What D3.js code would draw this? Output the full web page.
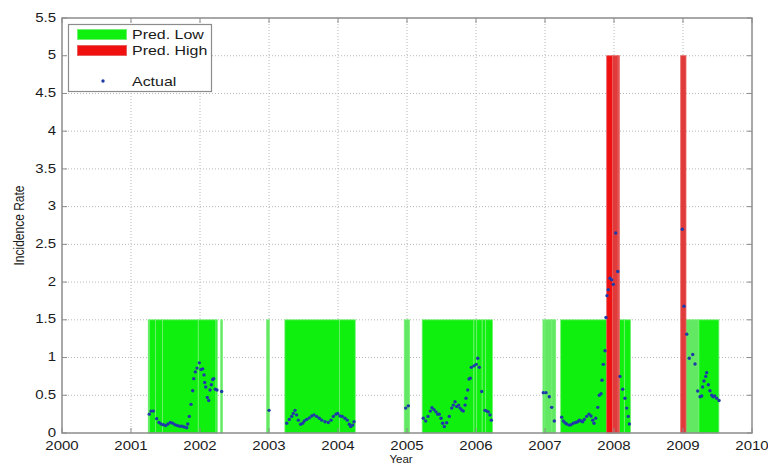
<!DOCTYPE html>
<html><head><meta charset="utf-8">
<script src="https://cdn.jsdelivr.net/npm/d3@7"></script>
<style>body{margin:0;background:#fff}svg{display:block}text{font-family:"Liberation Sans",Arial,sans-serif;fill:#1a1a1a}</style>
</head><body><svg id="c" width="768" height="465"></svg>
<script>
// ---- data ----
const xTicks = [2000,2001,2002,2003,2004,2005,2006,2007,2008,2009,2010];
const yTicks = [0,0.5,1,1.5,2,2.5,3,3.5,4,4.5,5,5.5];
const yTickLabels = ["0","0.5","1","1.5","2","2.5","3","3.5","4","4.5","5","5.5"];
const predLowValue = 1.5;
const predHighValue = 5;
// predicted-low bars (start year, end year, light shade flag)
const lowStart = [2001.25,2001.265,2001.355,2001.457,2001.975,2002.232,2002.30,2002.966,2003.23,2004.02,2004.96,2005.22,2005.97,2006.01,2006.09,2006.14,2006.97,2007.0,2007.1,2007.227,2008.077,2008.15,2009.043,2009.23];
const lowEnd   = [2001.265,2001.355,2001.457,2001.975,2002.232,2002.25,2002.325,2003.004,2004.02,2004.25,2005.035,2005.97,2006.01,2006.09,2006.14,2006.24,2007.0,2007.1,2007.155,2008.077,2008.15,2008.24,2009.23,2009.52];
const lowLight = [0,0,0,0,0,0,1,1,0,0,1,0,0,0,0,0,1,1,1,0,0,0,1,0];
// predicted-high bars
const highStart = [2007.894,2007.98,2008.06,2008.967];
const highEnd   = [2007.98,2008.06,2008.077,2009.043];
const highDull  = [0,1,1,1];
// actual incidence rate
const actualYear = [
2001.265,2001.290,2001.323,2001.372,2001.406,2001.435,2001.468,2001.503,2001.536,2001.570,2001.604,2001.638,2001.671,2001.706,2001.739,2001.772,2001.807,2001.822,2001.845,2001.870,2001.894,2001.909,2001.932,2001.957,2001.990,2002.014,2002.039,2002.058,2002.068,2002.083,2002.106,2002.126,2002.145,2002.164,2002.184,2002.199,2002.222,2002.246,2002.314,
2003.000,
2003.257,2003.294,2003.329,2003.352,2003.377,2003.401,2003.425,2003.459,2003.488,2003.512,2003.546,2003.584,2003.619,2003.652,2003.691,2003.729,2003.764,2003.812,2003.859,2003.899,2003.932,2003.971,2003.996,2004.029,2004.062,2004.101,2004.135,2004.164,2004.184,2004.213,2004.232,
2004.981,2005.019,
2005.236,2005.271,2005.304,2005.338,2005.362,2005.391,2005.420,2005.445,2005.468,2005.493,2005.517,2005.541,2005.575,2005.613,2005.648,2005.671,2005.696,2005.720,2005.749,2005.768,2005.793,2005.816,2005.841,2005.855,2005.880,2005.899,2005.917,2005.932,2005.971,2006.004,2006.025,2006.048,2006.083,2006.130,2006.155,2006.178,2006.203,2006.222,
2006.975,2007.014,2007.062,2007.097,2007.135,
2007.242,2007.265,2007.290,2007.314,2007.348,2007.377,2007.410,2007.445,2007.474,2007.497,2007.522,2007.546,2007.570,2007.604,2007.638,2007.667,2007.691,2007.710,2007.735,2007.764,2007.787,2007.812,2007.826,2007.845,2007.870,2007.884,2007.899,2007.917,2007.942,2007.967,2007.990,2008.025,2008.054,2008.087,2008.126,2008.159,2008.184,2008.207,2008.222,
2008.990,2009.014,2009.054,2009.091,2009.141,2009.174,2009.213,2009.246,2009.271,2009.284,2009.304,2009.329,2009.343,2009.367,2009.391,2009.416,2009.435,2009.459,2009.488,2009.522];
const actualValue = [
0.25,0.29,0.29,0.19,0.14,0.12,0.11,0.10,0.12,0.14,0.13,0.11,0.10,0.09,0.09,0.08,0.07,0.12,0.22,0.38,0.56,0.72,0.81,0.86,0.93,0.84,0.85,0.77,0.67,0.61,0.47,0.43,0.57,0.64,0.71,0.72,0.58,0.57,0.55,
0.30,
0.13,0.18,0.22,0.26,0.30,0.24,0.17,0.115,0.13,0.16,0.18,0.20,0.225,0.24,0.22,0.195,0.17,0.15,0.14,0.17,0.22,0.25,0.26,0.225,0.22,0.195,0.17,0.115,0.085,0.105,0.15,
0.33,0.36,
0.195,0.16,0.22,0.29,0.335,0.31,0.28,0.25,0.25,0.195,0.13,0.085,0.135,0.22,0.33,0.37,0.415,0.35,0.37,0.33,0.305,0.29,0.37,0.46,0.57,0.715,0.725,0.87,0.89,0.91,0.99,0.87,0.55,0.30,0.29,0.28,0.24,0.17,
0.535,0.535,0.48,0.34,0.16,
0.21,0.16,0.135,0.12,0.105,0.11,0.13,0.14,0.15,0.17,0.16,0.15,0.18,0.22,0.25,0.225,0.17,0.13,0.195,0.34,0.50,0.52,0.70,0.91,1.09,1.53,1.82,1.90,2.05,2.03,1.97,2.65,2.14,0.75,0.58,0.46,0.33,0.22,0.12,
2.70,1.68,1.31,0.99,1.04,0.915,0.557,0.48,0.49,0.61,0.69,0.75,0.80,0.64,0.56,0.50,0.48,0.49,0.46,0.43];
const legendLabels = ["Pred. Low","Pred. High","Actual"];
const xLabel = "Year", yLabel = "Incidence Rate";

// ---- drawing ----
const svg = d3.select("#c");
const L=62,R=752,T=18,B=433;
const x = d3.scaleLinear().domain([2000,2010]).range([L,R]);
const y = d3.scaleLinear().domain([0,5.5]).range([B,T]);
const GREEN="#0ff00f", GREEN_L="#62e862", GREEN_EDGE="#74f074";
const RED="#f01010", RED_D="#e03a3a", RED_EDGE="#e86060";
const AX="#8c8c8c";

// grid
const g = svg.append("g");
g.selectAll("line.gx").data(xTicks.slice(1,-1)).join("line")
  .attr("x1",d=>x(d)).attr("x2",d=>x(d)).attr("y1",T).attr("y2",B)
  .attr("stroke","#b8b8b8").attr("stroke-dasharray","1,2").attr("stroke-width",1);
g.selectAll("line.gy").data(yTicks.slice(1,-1)).join("line")
  .attr("y1",d=>y(d)).attr("y2",d=>y(d)).attr("x1",L).attr("x2",R)
  .attr("stroke","#b8b8b8").attr("stroke-dasharray","1,2").attr("stroke-width",1);

// low bars
svg.append("g").selectAll("rect").data(lowStart.map((s,i)=>({s,e:lowEnd[i],l:lowLight[i]}))).join("rect")
  .attr("x",d=>x(d.s)).attr("width",d=>Math.max(0.8,x(d.e)-x(d.s)))
  .attr("y",y(predLowValue)).attr("height",y(0)-y(predLowValue))
  .attr("fill",d=>d.l?GREEN_L:GREEN).attr("stroke",GREEN_EDGE).attr("stroke-width",0.8);
// high bars
svg.append("g").selectAll("rect").data(highStart.map((s,i)=>({s,e:highEnd[i],d:highDull[i]}))).join("rect")
  .attr("x",d=>x(d.s)).attr("width",d=>x(d.e)-x(d.s))
  .attr("y",y(predHighValue)).attr("height",y(0)-y(predHighValue))
  .attr("fill",d=>d.d?RED_D:RED).attr("stroke",RED_EDGE).attr("stroke-width",0.8);

// actual points
svg.append("g").selectAll("circle").data(actualYear.map((v,i)=>[v,actualValue[i]])).join("circle")
  .attr("cx",d=>x(d[0])).attr("cy",d=>y(d[1])).attr("r",1.7).attr("fill","#1f3aa8");

// frame + ticks
const ax = svg.append("g").attr("stroke",AX).attr("fill","none");
ax.append("rect").attr("x",L).attr("y",T).attr("width",R-L).attr("height",B-T).attr("stroke-width",1.5);
xTicks.forEach(t=>{
  ax.append("line").attr("x1",x(t)).attr("x2",x(t)).attr("y1",B).attr("y2",B-5);
  ax.append("line").attr("x1",x(t)).attr("x2",x(t)).attr("y1",T).attr("y2",T+5);
});
yTicks.forEach(t=>{
  ax.append("line").attr("y1",y(t)).attr("y2",y(t)).attr("x1",L).attr("x2",L+5);
  ax.append("line").attr("y1",y(t)).attr("y2",y(t)).attr("x1",R).attr("x2",R-5);
});

// tick labels
svg.append("g").selectAll("text").data(xTicks).join("text")
  .attr("transform",d=>`translate(${x(d)},450) scale(1.25,1)`)
  .attr("text-anchor","middle").attr("font-size",12).text(d=>d);
svg.append("g").selectAll("text").data(yTicks).join("text")
  .attr("transform",d=>`translate(56,${y(d)+3.6}) scale(1.25,1)`)
  .attr("text-anchor","end").attr("font-size",12).text((d,i)=>yTickLabels[i]);

// axis labels
svg.append("text").attr("x",401).attr("y",463).attr("text-anchor","middle").attr("font-size",11.5).text(xLabel);
svg.append("text").attr("transform","translate(24,225.5) scale(1.15,1) rotate(-90)")
  .attr("text-anchor","middle").attr("font-size",12).text(yLabel);

// legend
const lg = svg.append("g");
lg.append("rect").attr("x",68.5).attr("y",24.5).attr("width",143).attr("height",67)
  .attr("fill","#fff").attr("stroke",AX).attr("stroke-width",1.2);
lg.append("rect").attr("x",77.5).attr("y",29.5).attr("width",49).attr("height",10).attr("fill",GREEN).attr("stroke",GREEN_EDGE);
lg.append("rect").attr("x",77.5).attr("y",45.5).attr("width",49).attr("height",10).attr("fill",RED).attr("stroke",RED_EDGE);
lg.append("circle").attr("cx",103).attr("cy",81).attr("r",1.7).attr("fill","#1f3aa8");
const ly=[39,55,86];
legendLabels.forEach((t,i)=>{
  lg.append("text").attr("transform",`translate(132,${ly[i]}) scale(1.33,1)`).attr("font-size",12).text(t);
});
</script></body></html>
